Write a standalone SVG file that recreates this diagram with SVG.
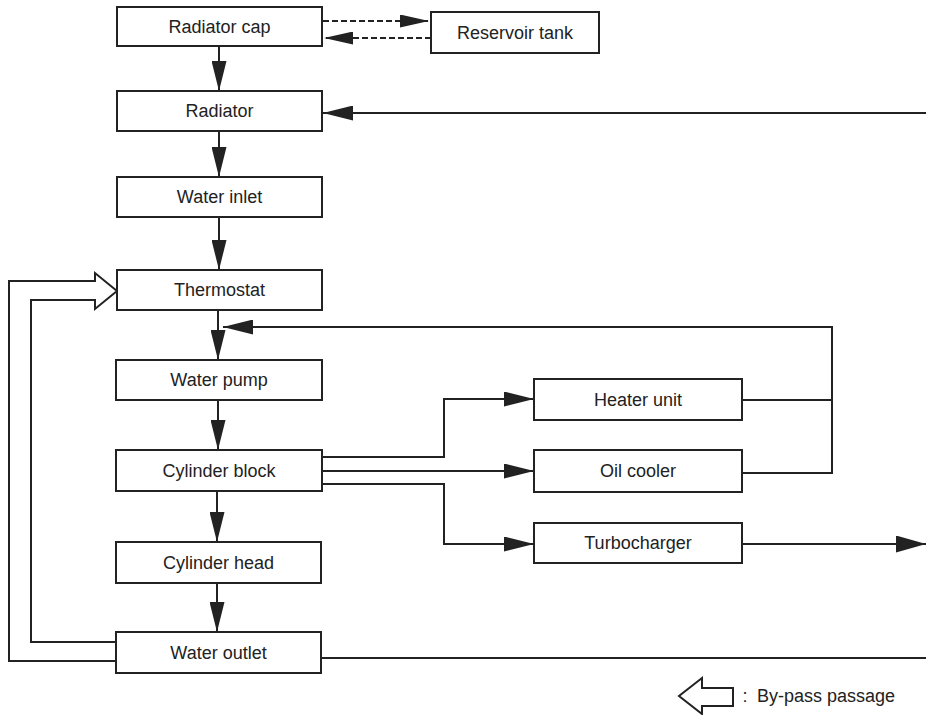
<svg xmlns="http://www.w3.org/2000/svg" width="926" height="715" viewBox="0 0 926 715">
  <style>
    .box rect { fill: #fff; stroke: #222; stroke-width: 2; }
    .box text, .legend text { font-family: "Liberation Sans", Arial, sans-serif; font-size: 18px; fill: #222; text-anchor: middle; }
    .line { fill: none; stroke: #222; stroke-width: 2; }
    .dash { fill: none; stroke: #222; stroke-width: 2; stroke-dasharray: 6 3; }
    .head { fill: #222; stroke: none; }
  </style>
  <defs>
    <marker id="arrow" viewBox="0 0 30 15" refX="30" refY="7.5" markerWidth="30" markerHeight="15" markerUnits="userSpaceOnUse" orient="auto">
      <path class="head" d="M0,0 L30,7.5 L0,15 Z"/>
    </marker>
    <marker id="arrow-sm" viewBox="0 0 29 13" refX="29" refY="6.5" markerWidth="29" markerHeight="13" markerUnits="userSpaceOnUse" orient="auto">
      <path class="head" d="M0,0 L29,6.5 L0,13 Z"/>
    </marker>
    <marker id="arrow-lg" viewBox="0 0 30 17" refX="30" refY="8.5" markerWidth="30" markerHeight="17" markerUnits="userSpaceOnUse" orient="auto">
      <path class="head" d="M0,0 L30,8.5 L0,17 Z"/>
    </marker>
  </defs>

  <rect width="926" height="715" fill="#fff"/>

  <!-- connectors -->
  <g id="connectors">
    <!-- radiator cap <-> reservoir tank -->
    <path class="dash" d="M323,21 H429" marker-end="url(#arrow-sm)"/>
    <path class="dash" d="M431,38 H324" marker-end="url(#arrow-sm)"/>
    <!-- main column -->
    <path class="line" d="M219,46 V91" marker-end="url(#arrow)"/>
    <path class="line" d="M219,131 V177" marker-end="url(#arrow)"/>
    <path class="line" d="M219,217 V270" marker-end="url(#arrow)"/>
    <path class="line" d="M218,310 V360" marker-end="url(#arrow)"/>
    <path class="line" d="M218,400 V450" marker-end="url(#arrow)"/>
    <path class="line" d="M217,491 V542" marker-end="url(#arrow)"/>
    <path class="line" d="M217,583 V632" marker-end="url(#arrow)"/>
    <!-- return into radiator -->
    <path class="line" d="M926,113 H323" marker-end="url(#arrow)"/>
    <!-- cylinder block branches -->
    <path class="line" d="M322,457 H444 V399 H534" marker-end="url(#arrow)"/>
    <path class="line" d="M322,471 H534" marker-end="url(#arrow)"/>
    <path class="line" d="M322,484 H444 V544 H534" marker-end="url(#arrow)"/>
    <!-- heater / oil cooler return to pump inlet -->
    <path class="line" d="M742,400 H832"/>
    <path class="line" d="M742,473 H832 V327 H223" marker-end="url(#arrow)"/>
    <!-- turbocharger outlet -->
    <path class="line" d="M742,544 H926" marker-end="url(#arrow-lg)"/>
    <!-- water outlet to radiator -->
    <path class="line" d="M321,658 H926"/>
    <!-- by-pass passage (hollow arrow) -->
    <path class="line" d="M116,661 H9 V281 H95 V273 L117,291 L95,309 V300 H31 V642 H116"/>
  </g>

  <!-- nodes -->
  <g id="radiator-cap" class="box">
    <rect x="117" y="7" width="205" height="39"/>
    <text x="219.5" y="33">Radiator cap</text>
  </g>
  <g id="reservoir-tank" class="box">
    <rect x="431" y="12" width="168" height="41"/>
    <text x="515" y="39">Reservoir tank</text>
  </g>
  <g id="radiator" class="box">
    <rect x="117" y="91" width="205" height="40"/>
    <text x="219.5" y="117">Radiator</text>
  </g>
  <g id="water-inlet" class="box">
    <rect x="117" y="177" width="205" height="40"/>
    <text x="219.5" y="203">Water inlet</text>
  </g>
  <g id="thermostat" class="box">
    <rect x="117" y="270" width="205" height="40"/>
    <text x="219.5" y="296">Thermostat</text>
  </g>
  <g id="water-pump" class="box">
    <rect x="116" y="360" width="206" height="40"/>
    <text x="219" y="386">Water pump</text>
  </g>
  <g id="cylinder-block" class="box">
    <rect x="116" y="450" width="206" height="41"/>
    <text x="219" y="477">Cylinder block</text>
  </g>
  <g id="cylinder-head" class="box">
    <rect x="116" y="542" width="205" height="41"/>
    <text x="218.5" y="569">Cylinder head</text>
  </g>
  <g id="water-outlet" class="box">
    <rect x="116" y="632" width="205" height="41"/>
    <text x="218.5" y="659">Water outlet</text>
  </g>
  <g id="heater-unit" class="box">
    <rect x="534" y="379" width="208" height="41"/>
    <text x="638" y="406">Heater unit</text>
  </g>
  <g id="oil-cooler" class="box">
    <rect x="534" y="450" width="208" height="42"/>
    <text x="638" y="477">Oil cooler</text>
  </g>
  <g id="turbocharger" class="box">
    <rect x="534" y="523" width="208" height="40"/>
    <text x="638" y="549">Turbocharger</text>
  </g>

  <!-- legend -->
  <g id="legend" class="legend">
    <path class="line" d="M733,688 H702 V678 L679,696 L702,714 V706 H733 Z"/>
    <text x="745" y="702">:</text>
    <text x="757" y="702" style="text-anchor:start">By-pass passage</text>
  </g>
</svg>
